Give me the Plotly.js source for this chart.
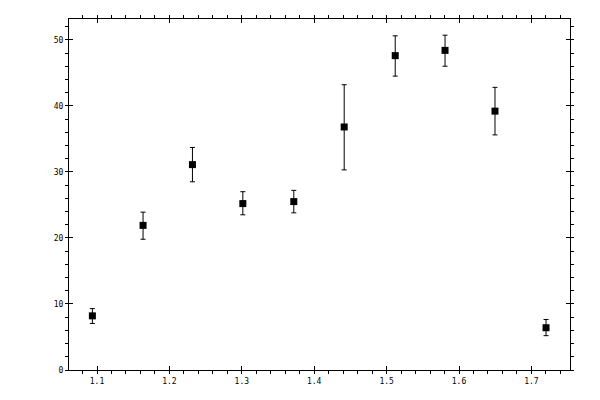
<!DOCTYPE html>
<html>
<head>
<meta charset="utf-8">
<script src="https://cdn.plot.ly/plotly-3.0.1.min.js"></script>
<style>
  html, body { margin: 0; padding: 0; background: #ffffff; }
  #chart { width: 600px; height: 400px; }
</style>
</head>
<body>
<div id="chart"></div>
<script>
const xValues = [1.0936, 1.1636, 1.2318, 1.3014, 1.3718, 1.4414, 1.5119, 1.5807, 1.6497, 1.7202];
const yValues = [8.2, 21.9, 31.1, 25.2, 25.5, 36.8, 47.6, 48.4, 39.2, 6.4];
const errPlus = [1.1, 2.0, 2.6, 1.8, 1.7, 6.4, 3.0, 2.3, 3.6, 1.25];
const errMinus = [1.15, 2.1, 2.6, 1.7, 1.7, 6.5, 3.1, 2.4, 3.6, 1.2];

const xRange = [1.0613, 1.7533];
const yRange = [0, 53.15];

const axisFont = { family: "DejaVu Sans Mono, monospace", size: 8, color: "#000000" };

function baseAxis(range, dtick, tick0, minorStep) {
  return {
    range: range,
    dtick: dtick,
    tick0: tick0,
    showline: true,
    linecolor: "#000000",
    linewidth: 1,
    mirror: "ticks",
    ticks: "outside",
    ticklen: 3,
    tickwidth: 1,
    tickcolor: "#000000",
    showgrid: false,
    zeroline: false,
    tickfont: axisFont,
    minor: {
      dtick: minorStep,
      ticks: "outside",
      ticklen: 3,
      tickwidth: 1,
      tickcolor: "#000000",
      showgrid: false,
    },
  };
}

const xaxis = baseAxis(xRange, 0.1, 1.1, 0.02);
xaxis.tickformat = ".1f";
const yaxis = baseAxis(yRange, 10, 0, 2);

// second set of axes only to get the inner half of the major ticks
function innerAxis(range, dtick, tick0, overlay, anchor, side) {
  return {
    range: range,
    dtick: dtick,
    tick0: tick0,
    overlaying: overlay,
    anchor: anchor,
    side: side,
    showline: false,
    mirror: "ticks",
    ticks: "inside",
    ticklen: 4,
    tickwidth: 1,
    tickcolor: "#000000",
    showticklabels: false,
    showgrid: false,
    zeroline: false,
  };
}

const traces = [
  {
    x: xValues,
    y: yValues,
    type: "scatter",
    mode: "markers",
    marker: { symbol: "square", size: 7, color: "#000000" },
    error_y: {
      type: "data",
      symmetric: false,
      array: errPlus,
      arrayminus: errMinus,
      color: "#000000",
      thickness: 1,
      width: 2.5,
    },
    hoverinfo: "x+y",
  },
  {
    x: xValues,
    y: yValues,
    xaxis: "x2",
    yaxis: "y2",
    type: "scatter",
    mode: "none",
    hoverinfo: "skip",
    showlegend: false,
  },
];

const layout = {
  width: 600,
  height: 400,
  margin: { l: 69, r: 30, t: 19, b: 30 },
  paper_bgcolor: "#ffffff",
  plot_bgcolor: "#ffffff",
  showlegend: false,
  xaxis: xaxis,
  yaxis: yaxis,
  xaxis2: innerAxis(xRange, 0.1, 1.1, "x", "y2", "bottom"),
  yaxis2: innerAxis(yRange, 10, 0, "y", "x2", "left"),
};

Plotly.newPlot("chart", traces, layout, { displayModeBar: false, staticPlot: true });
</script>
</body>
</html>
